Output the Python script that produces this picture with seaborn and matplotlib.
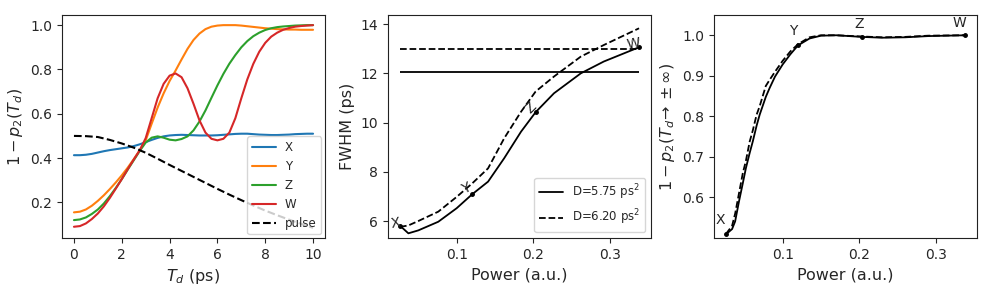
import matplotlib
matplotlib.use("Agg")
import matplotlib.pyplot as plt
import seaborn as sns
import pandas as pd

# painel 1: 1 - p2(Td) para os pontos X, Y, Z, W
td = [i * 0.25 for i in range(41)]
curva_x = [0.413, 0.413, 0.415, 0.419, 0.425, 0.431, 0.436, 0.440, 0.444, 0.448,
           0.454, 0.462, 0.472, 0.482, 0.491, 0.498, 0.502, 0.504, 0.505, 0.504,
           0.503, 0.502, 0.502, 0.502, 0.503, 0.505, 0.507, 0.509, 0.510, 0.510,
           0.508, 0.506, 0.505, 0.504, 0.504, 0.505, 0.506, 0.508, 0.509, 0.510, 0.510]
curva_y = [0.155, 0.158, 0.168, 0.185, 0.207, 0.232, 0.260, 0.290, 0.322, 0.357,
           0.395, 0.435, 0.480, 0.555, 0.628, 0.692, 0.748, 0.795, 0.845, 0.893,
           0.933, 0.962, 0.982, 0.993, 0.998, 1.000, 1.000, 1.000, 0.998, 0.995,
           0.992, 0.989, 0.986, 0.984, 0.982, 0.981, 0.980, 0.980, 0.979, 0.979, 0.979]
curva_z = [0.120, 0.123, 0.132, 0.148, 0.168, 0.195, 0.228, 0.265, 0.305, 0.348,
           0.390, 0.432, 0.470, 0.492, 0.498, 0.492, 0.483, 0.480, 0.486, 0.498,
           0.525, 0.565, 0.615, 0.672, 0.728, 0.780, 0.826, 0.865, 0.900, 0.928,
           0.950, 0.966, 0.978, 0.986, 0.991, 0.994, 0.996, 0.998, 0.999, 1.000, 1.000]
curva_w = [0.090, 0.093, 0.105, 0.125, 0.150, 0.182, 0.220, 0.262, 0.305, 0.350,
           0.393, 0.435, 0.490, 0.580, 0.670, 0.735, 0.772, 0.782, 0.765, 0.715,
           0.645, 0.570, 0.515, 0.487, 0.480, 0.487, 0.515, 0.580, 0.670, 0.755,
           0.825, 0.880, 0.920, 0.948, 0.966, 0.979, 0.987, 0.993, 0.996, 0.998, 1.000]
td_pulso = [i * 0.5 for i in range(21)]
pulso = [0.500, 0.499, 0.495, 0.482, 0.466, 0.447, 0.424, 0.397, 0.369, 0.342,
         0.315, 0.288, 0.261, 0.235, 0.210, 0.186, 0.163, 0.142, 0.122, 0.103, 0.085]

# painel 2: FWHM vs potencia
pot_fwhm = [0.026, 0.037, 0.050, 0.076, 0.100, 0.120, 0.141, 0.162, 0.184,
            0.203, 0.227, 0.262, 0.292, 0.338]
fwhm_575 = [5.81, 5.50, 5.62, 5.97, 6.52, 7.08, 7.60, 8.55, 9.63,
            10.42, 11.19, 12.00, 12.48, 13.06]
fwhm_620 = [5.76, 5.82, 6.00, 6.38, 6.98, 7.52, 8.14, 9.36, 10.44,
            11.26, 11.87, 12.68, 13.15, 13.83]
fwhm_ref_575 = 12.07
fwhm_ref_620 = 12.97

# painel 3: 1 - p2(Td -> +-inf) vs potencia
pot_inf = [0.026, 0.034, 0.038, 0.043, 0.048, 0.052, 0.057, 0.061, 0.066, 0.070,
           0.078, 0.083, 0.090, 0.100, 0.110, 0.120, 0.135, 0.150, 0.170, 0.203,
           0.230, 0.260, 0.290, 0.338]
inf_575 = [0.509, 0.522, 0.541, 0.590, 0.635, 0.672, 0.710, 0.738, 0.777, 0.804,
           0.848, 0.870, 0.898, 0.928, 0.953, 0.975, 0.992, 0.999, 1.000, 0.996,
           0.994, 0.995, 0.998, 1.000]
inf_620 = [0.510, 0.530, 0.560, 0.610, 0.660, 0.690, 0.738, 0.765, 0.804, 0.825,
           0.875, 0.890, 0.910, 0.937, 0.960, 0.978, 0.995, 1.000, 1.000, 0.997,
           0.995, 0.996, 0.999, 1.000]

pontos = ["X", "Y", "Z", "W"]
idx_pontos_fwhm = [0, 5, 9, 13]
idx_pontos_inf = [0, 15, 19, 23]
rot_fwhm = {"X": (0.020, 5.92, 10), "Y": (0.113, 7.30, 25),
            "Z": (0.197, 10.60, 45), "W": (0.331, 13.18, 10)}
pos_inf = {"X": (0.019, 0.545), "Y": (0.114, 1.011),
           "Z": (0.200, 1.027), "W": (0.331, 1.030)}

sns.set_style("ticks")
plt.rcParams["font.family"] = ["DejaVu Sans"]
plt.rcParams["xtick.major.size"] = 3.5
plt.rcParams["ytick.major.size"] = 3.5
plt.rcParams["axes.edgecolor"] = "#222222"
plt.rcParams["mathtext.fontset"] = "dejavusans"

FS_TICK = 10
FS_LABEL = 11.5

fig, axes = plt.subplots(1, 3, figsize=(9.92, 3.0), dpi=100)
fig.subplots_adjust(left=62 / 992, right=977 / 992, bottom=62 / 300,
                    top=285 / 300, wspace=0.2395)

# ---- painel 1
ax = axes[0]
df = pd.DataFrame({
    "td": td * 4,
    "valor": curva_x + curva_y + curva_z + curva_w,
    "ponto": sum([[p] * len(td) for p in pontos], []),
})
sns.lineplot(data=df, x="td", y="valor", hue="ponto", hue_order=pontos,
             palette=sns.color_palette("tab10", 4), linewidth=1.5, ax=ax)
sns.lineplot(x=td_pulso, y=pulso, color="black", linestyle="--",
             linewidth=1.5, label="pulse", ax=ax)
ax.set_xticks([0, 2, 4, 6, 8, 10])
ax.set_yticks([0.2, 0.4, 0.6, 0.8, 1.0])
ax.set_xlabel(r"$T_d$ (ps)", fontsize=FS_LABEL)
ax.set_ylabel(r"$1-p_2(T_d)$", fontsize=FS_LABEL)
ax.legend(loc="lower right", fontsize=8.5, borderaxespad=0.3)

# ---- painel 2
ax = axes[1]
sns.lineplot(x=pot_fwhm, y=fwhm_575, color="black", linewidth=1.3,
             label=r"D=5.75 ps$^2$", ax=ax)
sns.lineplot(x=pot_fwhm, y=fwhm_620, color="black", linewidth=1.3,
             linestyle="--", label=r"D=6.20 ps$^2$", ax=ax)
ax.hlines(fwhm_ref_575, pot_fwhm[0], pot_fwhm[-1], color="black", linewidth=1.3)
ax.hlines(fwhm_ref_620, pot_fwhm[0], pot_fwhm[-1], color="black", linewidth=1.3,
          linestyle="--")
ax.plot([pot_fwhm[i] for i in idx_pontos_fwhm],
        [fwhm_575[i] for i in idx_pontos_fwhm], "o", color="black", ms=2.5)
for p in pontos:
    px, py, rot = rot_fwhm[p]
    ax.text(px, py, p, fontsize=10, ha="center", va="center", rotation=rot)
ax.set_ylim(5.31, 14.37)
ax.set_xticks([0.1, 0.2, 0.3])
ax.set_yticks([6, 8, 10, 12, 14])
ax.set_xlabel("Power (a.u.)", fontsize=FS_LABEL)
ax.set_ylabel("FWHM (ps)", fontsize=FS_LABEL)
ax.legend(loc="lower right", fontsize=8.5)

# ---- painel 3
ax = axes[2]
sns.lineplot(x=pot_inf, y=inf_575, color="black", linewidth=1.3, ax=ax)
sns.lineplot(x=pot_inf, y=inf_620, color="black", linewidth=1.3,
             linestyle="--", ax=ax)
ax.plot([pot_inf[i] for i in idx_pontos_inf],
        [inf_575[i] for i in idx_pontos_inf], "o", color="black", ms=2.5)
for p in pontos:
    px, py = pos_inf[p]
    ax.text(px, py, p, fontsize=10, ha="center", va="center")
ax.set_ylim(0.5, 1.05)
ax.set_xticks([0.1, 0.2, 0.3])
ax.set_yticks([0.6, 0.7, 0.8, 0.9, 1.0])
ax.set_xlabel("Power (a.u.)", fontsize=FS_LABEL)
ax.set_ylabel(r"$1-p_2(T_d\!\rightarrow\pm\infty)$", fontsize=FS_LABEL)

for ax in axes:
    ax.tick_params(labelsize=FS_TICK)

fig.savefig("out.png", dpi=100)
